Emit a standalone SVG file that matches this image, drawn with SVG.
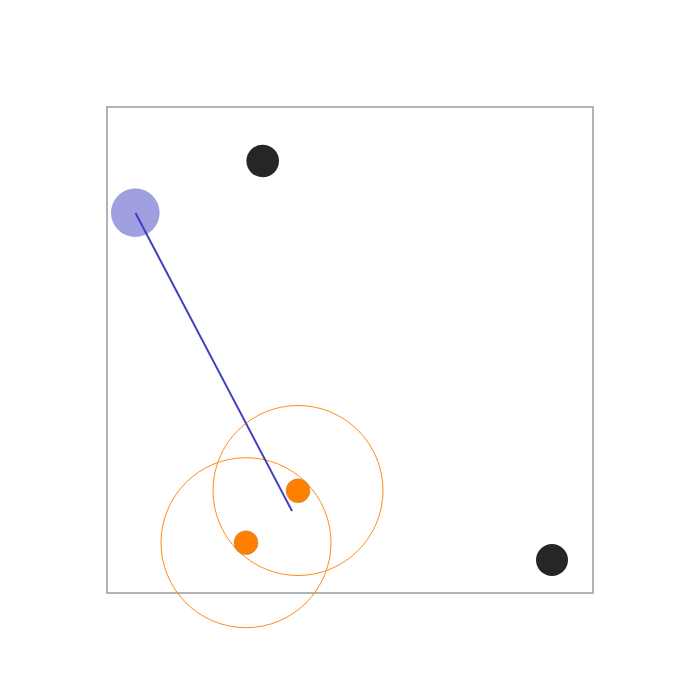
<svg xmlns="http://www.w3.org/2000/svg" width="700" height="700" viewBox="0 0 700 700">
<style>
.frame{fill:none;stroke:#999;stroke-width:1.5}
.black{fill:#262626}
.orange{fill:#ff8000;stroke:#b08050;stroke-width:0.8;stroke-opacity:0.6}
.range{fill:none;stroke:#ff8c1a;stroke-width:1}
.blue{fill:#a0a0e0;stroke:#8080d0;stroke-width:0.8;stroke-opacity:0.5}
.link{stroke:#4040c0;stroke-width:2;fill:none}
</style>
<rect width="700" height="700" fill="#fff"/>
<rect class="frame" x="107" y="107" width="486" height="486"/>
<g id="range1"><circle class="range" cx="298" cy="490.5" r="85"/></g>
<g id="range2"><circle class="range" cx="246" cy="542.7" r="85"/></g>
<g id="blue-node"><circle class="blue" cx="135.3" cy="212.7" r="24"/></g>
<g id="connectors">
<line class="link" x1="135.5" y1="213" x2="292" y2="511"/>
</g>
<g id="black1"><circle class="black" cx="262.7" cy="161" r="16.3"/></g>
<g id="black2"><circle class="black" cx="552" cy="560" r="16"/></g>
<g id="orange1"><circle class="orange" cx="298" cy="490.7" r="12"/></g>
<g id="orange2"><circle class="orange" cx="246" cy="542.7" r="12"/></g>
</svg>
